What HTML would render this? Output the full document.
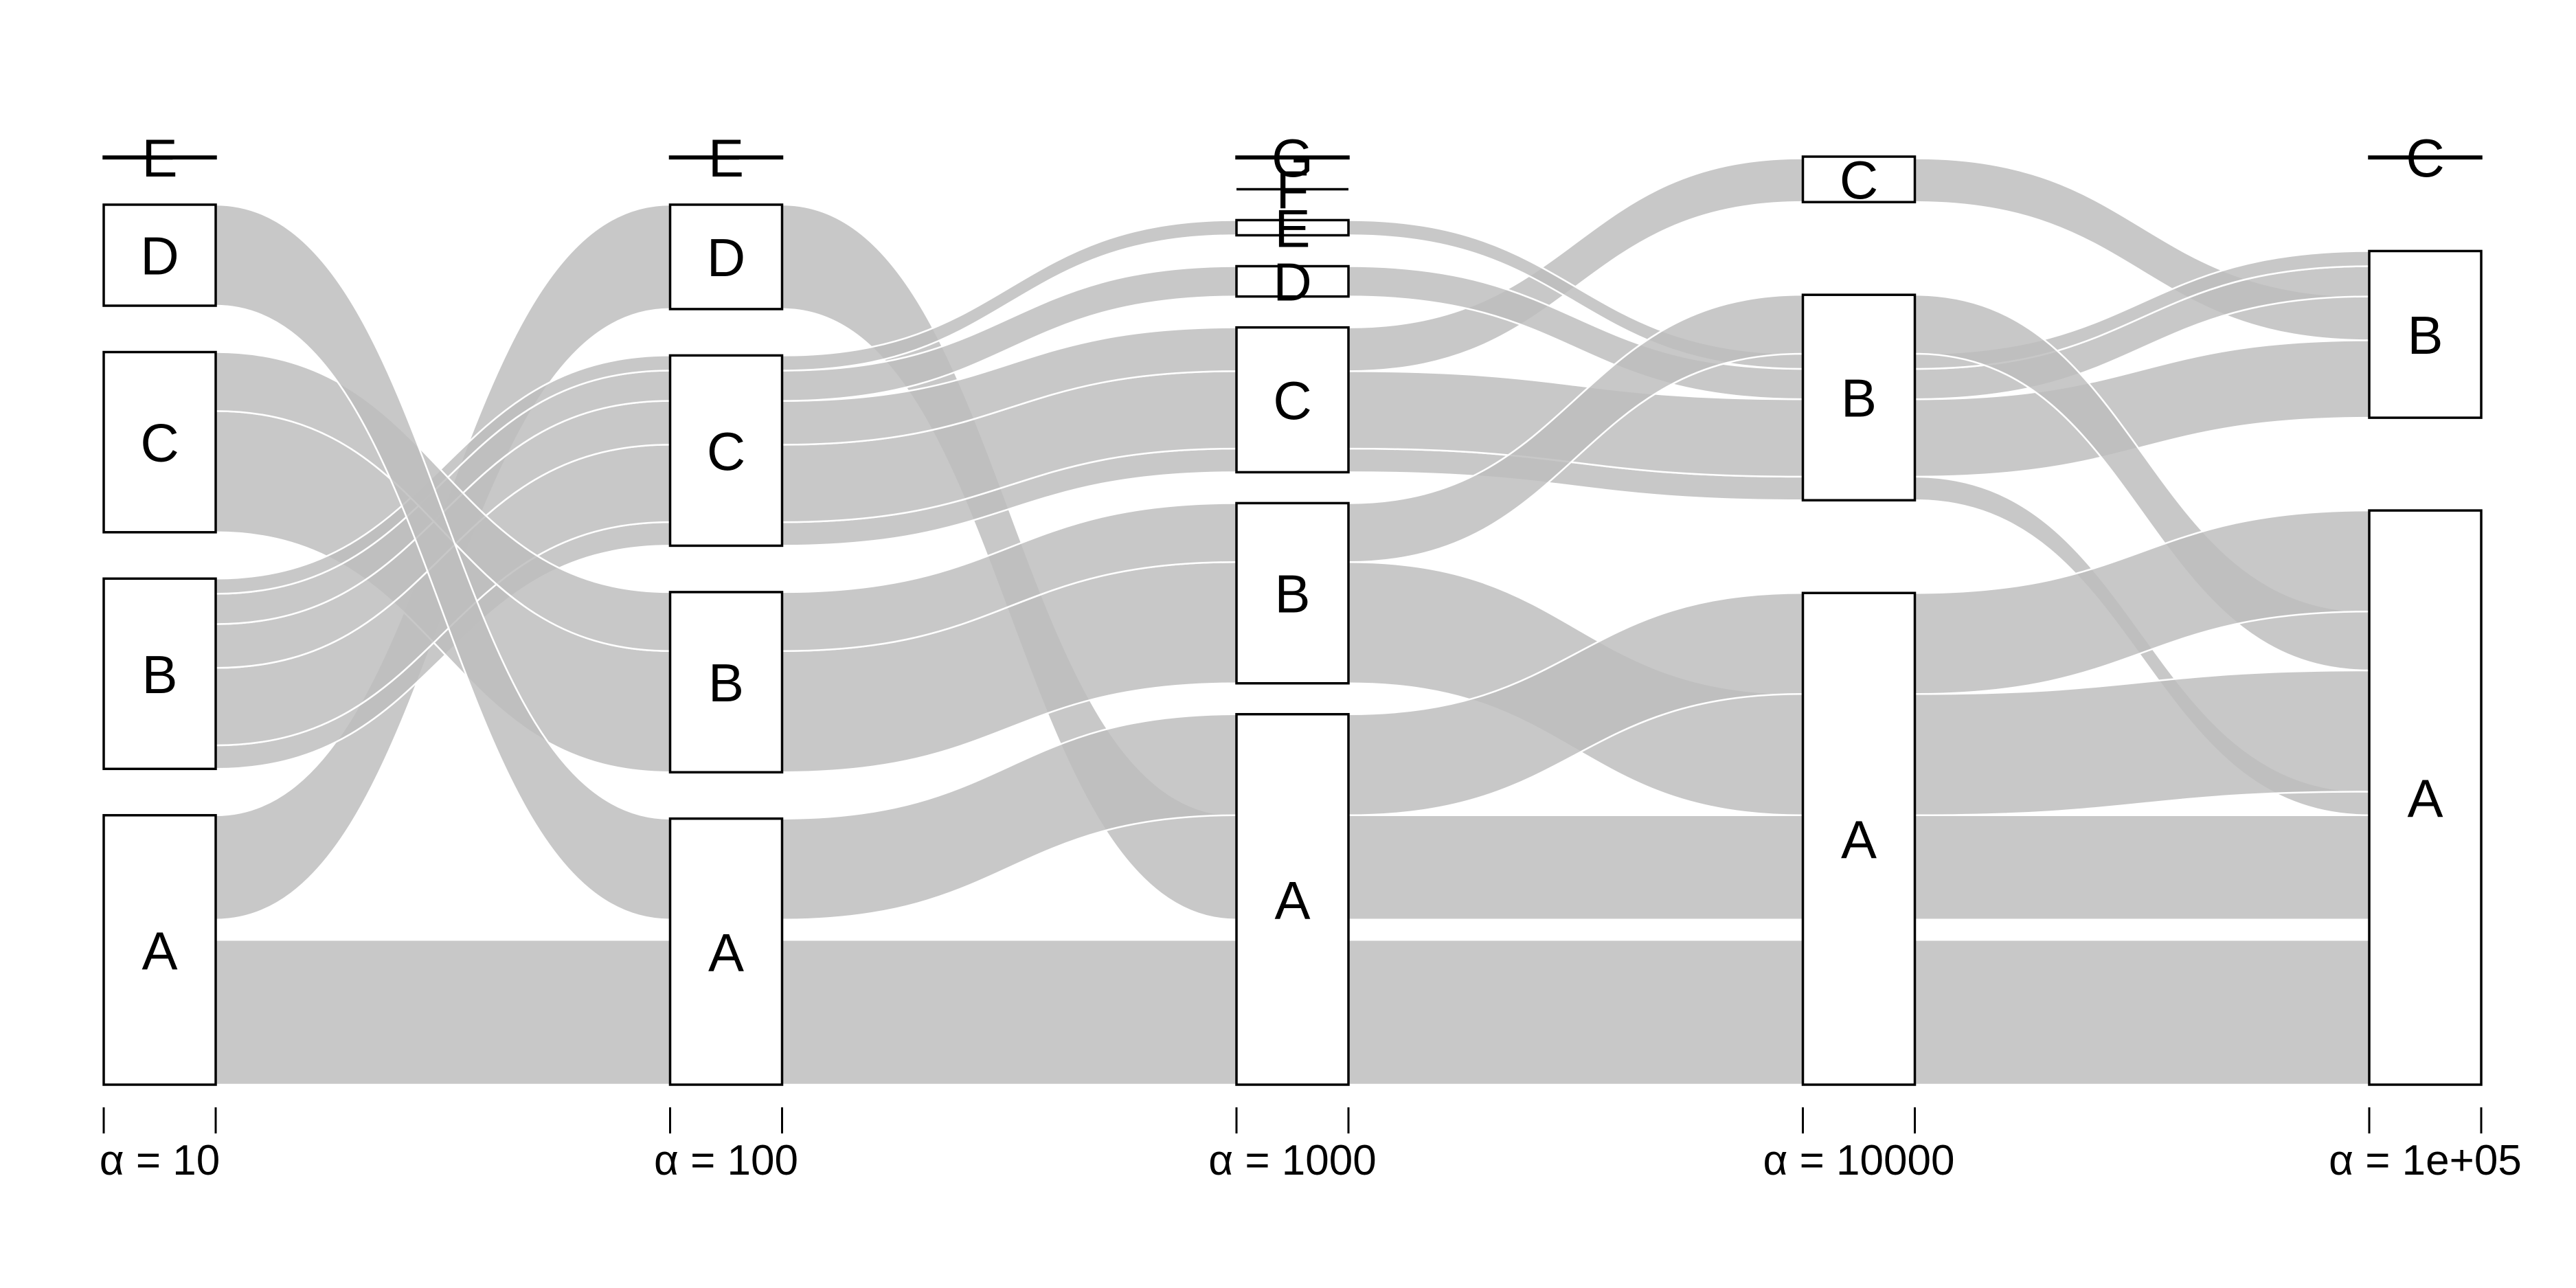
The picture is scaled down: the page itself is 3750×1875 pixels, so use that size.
<!DOCTYPE html>
<html><head><meta charset="utf-8"><style>
html,body{margin:0;padding:0;background:#fff;}
svg{display:block;font-family:"Liberation Sans",Arial,sans-serif;}
</style></head><body>
<svg id="chart" width="3750" height="1875" viewBox="0 0 3750 1875" xmlns="http://www.w3.org/2000/svg">
<g id="flows"></g>
<g id="boxes"></g>
<g id="axes"></g>
</svg>
<script>
// axis labels and levels
const axisLabels = ["α = 10", "α = 100", "α = 1000", "α = 10000", "α = 1e+05"];
const axisLevels = [["A","B","C","D","E"],["A","B","C","D","E"],["A","B","C","D","E","F","G"],["A","B","C"],["A","B","C"]];
// alluvia: category at each axis, weight; array order = stacking order within strata (bottom first)
const alluviumPaths = [
  ["A","A","A","A","A"],
  ["A","A","A","A","A"],
  ["A","D","A","A","A"],
  ["B","C","C","B","A"],
  ["C","B","B","A","A"],
  ["B","C","C","B","B"],
  ["B","C","C","C","B"],
  ["B","C","D","B","B"],
  ["B","C","E","B","B"],
  ["C","B","B","B","A"],
  ["D","A","A","A","A"],
  ["E","E","G","C","C"]
];
const alluviumWeights = [86, 12, 62, 14, 72, 46, 26, 18, 9, 35, 60, 1];
const alluviumHidden = [false, true, false, false, false, false, false, false, false, false, false, false];

const NS = "http://www.w3.org/2000/svg";
const boxW = 163;
const axisX = i => 151 + i * 824.5;       // left edge of box
const yBottom = 1579, yTop = 228;
const gapTotal = 270;
const totalW = alluviumWeights.reduce((a, b) => a + b, 0);
const ppu = (yBottom - yTop - gapTotal) / totalW;

const strata = [];
const pos = alluviumPaths.map(() => []);
axisLevels.forEach((levels, ai) => {
  const gap = gapTotal / (levels.length - 1);
  let y = yBottom;
  const s = {};
  levels.forEach(lv => {
    const bot = y;
    alluviumPaths.forEach((p, k) => {
      if (p[ai] === lv) {
        const h = alluviumWeights[k] * ppu;
        pos[k][ai] = {bot: y, top: y - h};
        y -= h;
      }
    });
    s[lv] = {bot: bot, top: y};
    y -= gap;
  });
  strata.push(s);
});

function curve(x1, y1, x2, y2) {
  const m = (x1 + x2) / 2;
  return `C ${m} ${y1} ${m} ${y2} ${x2} ${y2}`;
}
const flows = document.getElementById("flows");
alluviumPaths.forEach((p, k) => {
  if (alluviumHidden[k]) return;
  const n = p.length;
  let d = `M ${axisX(0)} ${pos[k][0].top}`;
  for (let i = 0; i < n; i++) {
    if (i > 0) d += " " + curve(axisX(i - 1) + boxW, pos[k][i - 1].top, axisX(i), pos[k][i].top);
    d += ` L ${axisX(i) + boxW} ${pos[k][i].top}`;
  }
  d += ` L ${axisX(n - 1) + boxW} ${pos[k][n - 1].bot} L ${axisX(n - 1)} ${pos[k][n - 1].bot}`;
  for (let i = n - 1; i > 0; i--) {
    d += " " + curve(axisX(i), pos[k][i].bot, axisX(i - 1) + boxW, pos[k][i - 1].bot);
    d += ` L ${axisX(i - 1)} ${pos[k][i - 1].bot}`;
  }
  d += " Z";
  const path = document.createElementNS(NS, "path");
  path.setAttribute("d", d);
  path.setAttribute("fill", "rgb(190,190,190)");
  path.setAttribute("fill-opacity", "0.84");
  path.setAttribute("stroke", "#fff");
  path.setAttribute("stroke-width", "2.5");
  
  
  flows.appendChild(path);
});

const boxes = document.getElementById("boxes");
strata.forEach((s, ai) => {
  const x = axisX(ai);
  Object.keys(s).forEach(lv => {
    const st = s[lv];
    const h = st.bot - st.top;
    let el;
    if (h < 1) {
      el = document.createElementNS(NS, "line");
      el.setAttribute("x1", x); el.setAttribute("x2", x + boxW);
      el.setAttribute("y1", st.top); el.setAttribute("y2", st.top);
    } else {
      el = document.createElementNS(NS, "rect");
      el.setAttribute("x", x); el.setAttribute("y", st.top);
      el.setAttribute("width", boxW); el.setAttribute("height", h);
      el.setAttribute("fill", "#fff");
    }
    el.setAttribute("stroke", "#000");
    el.setAttribute("stroke-width", "3.5");
    
    
    boxes.appendChild(el);
    const t = document.createElementNS(NS, "text");
    t.setAttribute("x", x + boxW / 2);
    t.setAttribute("y", (st.top + st.bot) / 2 + 28);
    t.setAttribute("text-anchor", "middle");
    t.setAttribute("font-size", "78");
    t.textContent = lv;
    
    
    boxes.appendChild(t);
  });
});

const axes = document.getElementById("axes");
axisLabels.forEach((lab, ai) => {
  const x = axisX(ai);
  [x, x + boxW].forEach(tx => {
    const l = document.createElementNS(NS, "line");
    l.setAttribute("x1", tx); l.setAttribute("x2", tx);
    l.setAttribute("y1", 1612); l.setAttribute("y2", 1650);
    l.setAttribute("stroke", "#000"); l.setAttribute("stroke-width", "3");
    
    
    axes.appendChild(l);
  });
  const t = document.createElementNS(NS, "text");
  t.setAttribute("x", x + boxW / 2);
  t.setAttribute("y", 1710);
  t.setAttribute("text-anchor", "middle");
  t.setAttribute("font-size", "62");
  t.textContent = lab;
  
  
  axes.appendChild(t);
});
</script>
</body></html>
